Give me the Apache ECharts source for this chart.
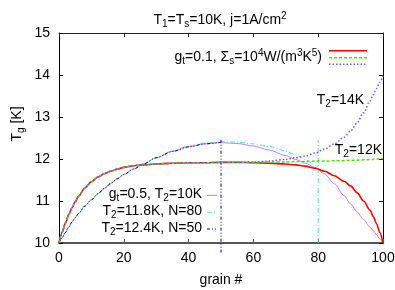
<!DOCTYPE html>
<html><head><meta charset="utf-8">
<script src="https://cdn.jsdelivr.net/npm/echarts@6/dist/echarts.min.js"></script>
<style>html,body{margin:0;padding:0;background:#fff}#c{width:395px;height:290px}</style>
</head><body><div id="c"></div>
<script>
// grain positions for the long curves
const xGrid = [0,1,2,3,4,5,6,8,10,12,14,16,18,20,23,26,30,35,40,45,50,55,60,65,70,73,76,79,82,85,88,90,92,94,96,97,98,99,100];
// g_t = 0.1, Sigma_s = 1e4
const redY   = [10,10.26,10.48,10.67,10.84,10.98,11.11,11.31,11.46,11.57,11.65,11.71,11.76,11.80,11.84,11.86,11.88,11.90,11.91,11.91,11.92,11.92,11.91,11.90,11.88,11.86,11.83,11.78,11.71,11.60,11.47,11.36,11.20,11.00,10.78,10.63,10.46,10.25,10];
const greenY = [10,10.26,10.48,10.67,10.84,10.98,11.11,11.31,11.46,11.57,11.65,11.71,11.76,11.80,11.84,11.86,11.88,11.90,11.91,11.91,11.92,11.92,11.92,11.93,11.93,11.94,11.94,11.95,11.95,11.96,11.96,11.97,11.97,11.98,11.99,11.99,12.00,12.00,12.01];
const blueY  = [10,10.26,10.48,10.67,10.84,10.98,11.11,11.31,11.46,11.57,11.65,11.71,11.76,11.80,11.84,11.86,11.88,11.90,11.91,11.91,11.92,11.92,11.93,11.95,11.99,12.03,12.07,12.14,12.24,12.36,12.52,12.67,12.86,13.10,13.38,13.53,13.68,13.83,13.98];
// g_t = 0.5, T2 = 10K
const violetY = [10,10.13,10.25,10.38,10.50,10.60,10.70,10.88,11.03,11.17,11.30,11.42,11.53,11.63,11.76,11.88,12.03,12.18,12.29,12.36,12.39,12.37,12.31,12.21,12.08,11.99,11.90,11.80,11.64,11.41,11.13,10.93,10.74,10.56,10.38,10.29,10.20,10.10,10];
// T2 = 11.8K, N = 80
const cyanX = [0,1,2,3,4,5,6,8,10,12,14,16,18,20,23,26,30,35,40,45,50,55,60,65,70,73,76,79,80];
const cyanY = [10,10.13,10.25,10.38,10.50,10.60,10.70,10.88,11.03,11.17,11.30,11.42,11.53,11.63,11.76,11.88,12.03,12.19,12.31,12.38,12.41,12.40,12.36,12.30,12.19,12.10,11.99,11.85,11.80];
// T2 = 12.4K, N = 50
const navyX = [0,1,2,3,4,5,6,8,10,12,14,16,18,20,23,26,30,35,40,45,50];
const navyY = [10,10.13,10.25,10.38,10.50,10.60,10.70,10.88,11.03,11.17,11.30,11.42,11.53,11.63,11.76,11.88,12.03,12.18,12.29,12.36,12.40];
// vertical markers at the chain ends
const vNavyX = [50,50], vNavyY = [9.77,12.47];
const vCyanX = [80,80], vCyanY = [10,12.45];

const xTicks = {min:0, max:100, interval:20};
const yTicks = {min:10, max:15, interval:1};

const FONT = '"Liberation Sans", Arial, Helvetica, sans-serif';
const zip = (xs, ys) => xs.map((x, i) => [x, ys[i]]);

const rich = {
  n: {fontSize:14, fontFamily:FONT, color:'#000', lineHeight:18},
  b: {fontSize:10, fontFamily:FONT, color:'#000', lineHeight:8, verticalAlign:'bottom'},
  p: {fontSize:10, fontFamily:FONT, color:'#000', lineHeight:8, verticalAlign:'top'}
};
function txt(x, y, t, align, rot) {
  return {type:'text', x:x, y:y, rotation: rot || 0, silent:true,
    style:{text:t, rich:rich, align:align, verticalAlign:'middle', font:'14px ' + FONT}};
}
function seg(x1, x2, y, color, dash, w) {
  return {type:'line', silent:true, shape:{x1:x1, y1:y, x2:x2, y2:y},
    style:{stroke:color, lineWidth:w, lineDash:dash}};
}

const C = {red:'#ff0000', green:'#55dd00', blue:'#6a5cff', violet:'#cc77ee', cyan:'#4fe3cf', navy:'#000088'};
const D = {green:[3,2], blue:[1.5,2], cyan:[5,2,1,2], navy:[3,2,1,2,1,2]};

function ser(data, color, width, dash, extra) {
  return Object.assign({type:'line', data:data, showSymbol:false, symbol:'none', smooth:0.3,
    smoothMonotone:'x', animation:false, silent:true,
    lineStyle:{color:color, width:width, type: dash || 'solid'}}, extra || {});
}

const axisTxt = {color:'#000', fontSize:14, fontFamily:FONT};

const option = {
  animation:false,
  backgroundColor:'#fff',
  grid:{left:59, right:12, top:33, bottom:47, containLabel:false, outerBoundsMode:'none'},
  xAxis:[
    Object.assign({type:'value', position:'bottom',
      axisLine:{show:true, onZero:false, lineStyle:{color:'#555', width:2}},
      axisTick:{show:true, inside:true, length:4, lineStyle:{color:'#555'}},
      axisLabel:{show:true, margin:8, ...axisTxt},
      splitLine:{show:false},
      name:'grain #', nameLocation:'middle', nameGap:30, nameTextStyle:axisTxt}, xTicks),
    Object.assign({type:'value', position:'top',
      axisLine:{show:true, onZero:false, lineStyle:{color:'#222', width:1}},
      axisTick:{show:true, inside:true, length:4, lineStyle:{color:'#222'}},
      axisLabel:{show:false}, splitLine:{show:false}}, xTicks)
  ],
  yAxis:[
    Object.assign({type:'value', position:'left',
      axisLine:{show:true, onZero:false, lineStyle:{color:'#000', width:1}},
      axisTick:{show:true, inside:true, length:4, lineStyle:{color:'#000'}},
      axisLabel:{show:true, margin:9, ...axisTxt},
      splitLine:{show:false}}, yTicks),
    Object.assign({type:'value', position:'right',
      axisLine:{show:true, onZero:false, lineStyle:{color:'#000', width:1}},
      axisTick:{show:true, inside:true, length:4, lineStyle:{color:'#000'}},
      axisLabel:{show:false}, splitLine:{show:false}}, yTicks)
  ],
  series:[
    ser(zip(xGrid, violetY), C.violet, 1),
    ser(zip(cyanX, cyanY), C.cyan, 1, D.cyan),
    ser(zip(navyX, navyY), C.navy, 1, D.navy),
    ser(zip(vCyanX, vCyanY), C.cyan, 1, D.cyan, {smooth:false, clip:false}),
    ser(zip(vNavyX, vNavyY), C.navy, 1, D.navy, {smooth:false, clip:false}),
    ser(zip(xGrid, redY), C.red, 1.6),
    ser(zip(xGrid, greenY), C.green, 1.5, D.green),
    ser(zip(xGrid, blueY), C.blue, 1.5, D.blue)
  ],
  graphic:[
    txt(220, 20, '{n|T}{b|1}{n|=T}{b|s}{n|=10K, j=1A/cm}{p|2}', 'center'),
    txt(17, 124, '{n|T}{b|g}{n| [K]}', 'center', Math.PI/2),
    txt(322, 57, '{n|g}{b|t}{n|=0.1, Σ}{b|s}{n|=10}{p|4}{n|W/(m}{p|3}{n|K}{p|5}{n|)}', 'right'),
    seg(329, 367, 50.7, C.red, null, 1.6),
    seg(329, 367, 57.7, C.green, D.green, 1.5),
    seg(329, 367, 64.3, C.blue, D.blue, 1.5),
    txt(202, 194, '{n|g}{b|t}{n|=0.5, T}{b|2}{n|=10K}', 'right'),
    txt(202, 211, '{n|T}{b|2}{n|=11.8K, N=80}', 'right'),
    txt(202, 228, '{n|T}{b|2}{n|=12.4K, N=50}', 'right'),
    seg(207, 217, 195.3, C.violet, null, 1),
    seg(207, 217, 212.3, C.cyan, D.cyan, 1),
    seg(207, 217, 229, C.navy, D.navy, 1),
    txt(364, 100, '{n|T}{b|2}{n|=14K}', 'right'),
    txt(382, 150, '{n|T}{b|2}{n|=12K}', 'right')
  ]
};
const chart = echarts.init(document.getElementById('c'), null, {renderer:'canvas'});
chart.setOption(option);
</script></body></html>
